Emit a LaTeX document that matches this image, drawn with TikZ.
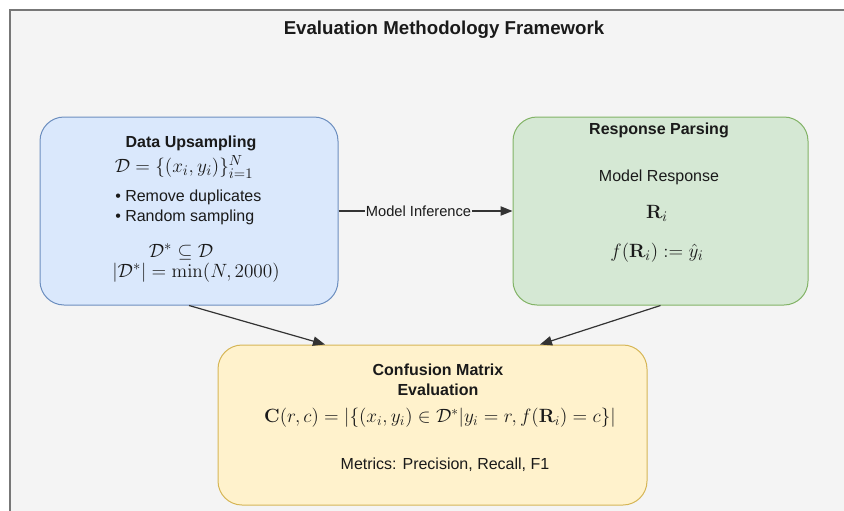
\documentclass[tikz,border=0pt]{standalone}
\usepackage[no-math]{fontspec}
\setmainfont{Liberation Sans}
\usepackage{amsmath,amssymb}
\usetikzlibrary{arrows.meta,calc}

\definecolor{bgcol}{HTML}{F4F4F4}
\definecolor{framecol}{HTML}{777777}
\definecolor{txtcol}{HTML}{1A1A1A}
\definecolor{linecol}{HTML}{333333}
\definecolor{blfill}{HTML}{DAE8FC}
\definecolor{bldraw}{HTML}{6C8EBF}
\definecolor{grfill}{HTML}{D5E8D4}
\definecolor{grdraw}{HTML}{82B366}
\definecolor{ylfill}{HTML}{FFF2CC}
\definecolor{yldraw}{HTML}{D6B656}

\begin{document}
\begin{tikzpicture}[x=0.75pt,y=-0.75pt,
  box/.style={draw, rounded corners=18pt, line width=0.75pt, inner sep=0pt},
  txt/.style={font=\fontsize{12}{15}\selectfont, text=txtcol, inner sep=0pt},
  hd/.style={font=\fontsize{12}{15}\selectfont\bfseries, text=txtcol, inner sep=0pt},
  mth/.style={font=\fontsize{14}{16}\selectfont, text=txtcol, inner sep=0pt},
  arr/.style={-{Triangle[length=9pt,width=7pt]}, line width=0.9pt, draw=linecol}]

  % Rahmen und Hintergrund
  \useasboundingbox (0,0) rectangle (844,511);
  \fill[white] (0,0) rectangle (844,511);
  \draw[framecol, line width=1.5pt, fill=bgcol] (10,10) rectangle (900,600);

  \node[font=\fontsize{14}{16}\selectfont\bfseries, text=txtcol] (title) at (444,30) {Evaluation Methodology Framework};

  % Kaesten
  \node[box, fill=blfill, draw=bldraw, minimum width=223.5pt, minimum height=141pt] (upsamp) at (189,211) {};
  \node[box, fill=grfill, draw=grdraw, minimum width=221.25pt, minimum height=141pt] (parse) at (660.5,211) {};
  \node[box, fill=ylfill, draw=yldraw, minimum width=321.75pt, minimum height=120pt] (confm) at (432.5,425) {};

  % Datenaufbereitung
  \node[hd] (upsamphd) at (191,143) {Data Upsampling};
  \node[mth, font=\fontsize{15}{17}\selectfont] (dset) at (184,167) {$\mathcal{D} = \{(x_i, y_i)\}_{i=1}^{N}$};
  \node[txt, anchor=west, align=left] (steps) at (115,207) {• Remove duplicates\\• Random sampling};
  \node[mth, font=\fontsize{15}{17}\selectfont] (subset) at (181,252) {$\mathcal{D}^{*} \subseteq \mathcal{D}$};
  \node[mth, font=\fontsize{15}{17}\selectfont] (size) at (196,273) {$|\mathcal{D}^{*}| = \min(N, 2000)$};

  % Antwortauswertung
  \node[hd] (parsehd) at (659,130) {Response Parsing};
  \node[txt] (resp) at (659,177) {Model Response};
  \node[mth, font=\fontsize{15}{17}\selectfont] (ri) at (657,213) {$\mathbf{R}_i$};
  \node[mth, font=\fontsize{15}{17}\selectfont] (fri) at (657,253) {$f(\mathbf{R}_i) := \hat{y}_i$};

  % Konfusionsmatrix
  \node[hd, align=center] (confhd) at (438,380) {Confusion Matrix\\Evaluation};
  \node[mth, font=\fontsize{13.7}{16}\selectfont] (cmat) at (440,418) {$\mathbf{C}(r,c) = |\{(x_i,y_i) \in \mathcal{D}^{*} | y_i = r, f(\mathbf{R}_i) = c\}|$};
  \node[txt] (metr) at (445,465) {Metrics: Precision, Recall, F1};

  % Pfeile
  \draw[arr] (upsamp.east) -- node[pos=0.46, fill=bgcol, inner sep=0.5pt, font=\fontsize{11}{13}\selectfont, text=txtcol] (infer) {Model Inference} (parse.west);
  \draw[arr] (upsamp.south) -- ($(confm.north west)!0.25!(confm.north east)$);
  \draw[arr] (parse.south) -- ($(confm.north west)!0.75!(confm.north east)$);
\end{tikzpicture}
\end{document}
